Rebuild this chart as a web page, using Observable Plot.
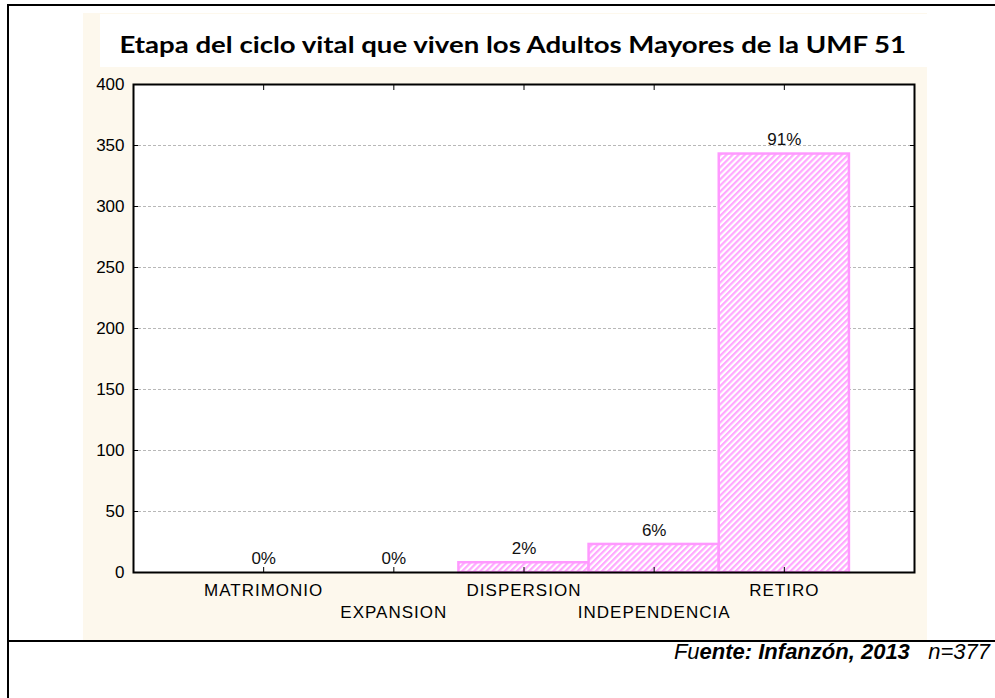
<!DOCTYPE html>
<html>
<head>
<meta charset="utf-8">
<script src="https://cdn.jsdelivr.net/npm/d3@7"></script>
<script src="https://cdn.jsdelivr.net/npm/@observablehq/plot@0.6"></script>
<style>
  html, body { margin: 0; padding: 0; background: #fff; }
  #page { position: relative; width: 995px; height: 698px; overflow: hidden; background: #fff; }
  .line { position: absolute; background: #000; }
  #cream { position: absolute; left: 83px; top: 13px; width: 844px; height: 627px; background: #fdf8ed; }
  #titlebox { position: absolute; left: 100px; top: 14px; width: 827px; height: 53px; background: #fff; }
  #title { position: absolute; left: 0px; top: 14px; width: 1025px; height: 53px; line-height: 60px; text-align: center; }
  #title span { display: inline-block; transform: scaleX(1.2); transform-origin: center;
           font-family: Lato, "Open Sans", sans-serif; font-weight: bold; font-size: 23px; color: #000; }
  #chart { position: absolute; left: 83px; top: 67px; }
  #caption { position: absolute; right: 5px; top: 640px; font-family: "Liberation Sans", Arial, sans-serif; font-size: 22px;
             font-style: italic; color: #000; white-space: pre; line-height: 24px; }
</style>
</head>
<body>
<div id="page">
  <div id="cream"></div>
  <div id="titlebox"></div>
  <div id="title"><span>Etapa del ciclo vital que viven los Adultos Mayores de la UMF 51</span></div>
  <div id="chart"></div>
  <div class="line" style="left:7px; top:4px; width:988px; height:2px;"></div>
  <div class="line" style="left:7px; top:4px; width:2px; height:694px;"></div>
  <div class="line" style="left:7px; top:640px; width:988px; height:2px;"></div>
  <div id="caption">Fu<b>ente: Infanzón, 2013</b>   n=377</div>
</div>
<script>
const categories = ["MATRIMONIO", "EXPANSION", "DISPERSION", "INDEPENDENCIA", "RETIRO"];
const counts = [0, 0, 8, 23, 343];
const percentLabels = ["0%", "0%", "2%", "6%", "91%"];
const yTicks = [0, 50, 100, 150, 200, 250, 300, 350, 400];

const data = categories.map((c, i) => ({cat: c, pos: i + 1, n: counts[i], pct: percentLabels[i]}));
const positions = data.map(d => d.pos);
const catOf = p => categories[p - 1];

const plot = Plot.plot({
  width: 844,
  height: 573,
  marginLeft: 50,
  marginRight: 13,
  marginTop: 17,
  marginBottom: 68,
  style: {fontFamily: "'Liberation Sans', Arial, sans-serif", fontSize: "17px", background: "#fdf8ed", color: "#000"},
  x: {type: "linear", domain: [0, 6], label: null},
  y: {domain: [0, 400], label: null},
  marks: [
    Plot.frame({fill: "white"}),
    Plot.gridY(yTicks.filter(d => d > 0 && d < 400), {stroke: "#b8b8b8", strokeOpacity: 1, strokeDasharray: "3,2"}),
    Plot.rect(data.filter(d => d.n > 0), {x1: d => d.pos - 0.5, x2: d => d.pos + 0.5, y1: 0, y2: "n",
      fill: "url(#hatch)", stroke: "#ff99ff", strokeWidth: 2.5, inset: 0}),
    Plot.text(data, {x: "pos", y: "n", text: "pct", dy: -14, fill: "#111"}),
    Plot.axisY(yTicks, {anchor: "left", tickSize: -5, tickPadding: 14, tickFormat: d => String(d), label: null}),
    Plot.axisY(yTicks, {anchor: "right", tickSize: -5, tickFormat: null, text: null, label: null}),
    Plot.axisX(positions, {anchor: "top", tickSize: -5, text: null, tickFormat: null, label: null}),
    Plot.axisX(positions, {anchor: "bottom", tickSize: -5, text: null, tickFormat: null, label: null}),
    Plot.axisX(positions.filter(p => p % 2 === 1), {anchor: "bottom", tickSize: 0, tickPadding: 11, tickFormat: catOf, label: null}),
    Plot.axisX(positions.filter(p => p % 2 === 0), {anchor: "bottom", tickSize: 0, tickPadding: 33, tickFormat: catOf, label: null}),
    Plot.frame({stroke: "black", strokeWidth: 2})
  ]
});

// hatch pattern definition
const svg = d3.select(plot);
const defs = svg.insert("defs", ":first-child");
const pat = defs.append("pattern")
  .attr("id", "hatch")
  .attr("patternUnits", "userSpaceOnUse")
  .attr("width", 4.3).attr("height", 4.3)
  .attr("patternTransform", "rotate(45)");
pat.append("rect").attr("width", 4.3).attr("height", 4.3).attr("fill", "#ffffff");
pat.append("rect").attr("width", 2.2).attr("height", 4.3).attr("fill", "#ffa8ff");

svg.selectAll("g[aria-label='x-axis tick label'] text").attr("letter-spacing", "1px");

document.getElementById("chart").appendChild(plot);
</script>
</body>
</html>
